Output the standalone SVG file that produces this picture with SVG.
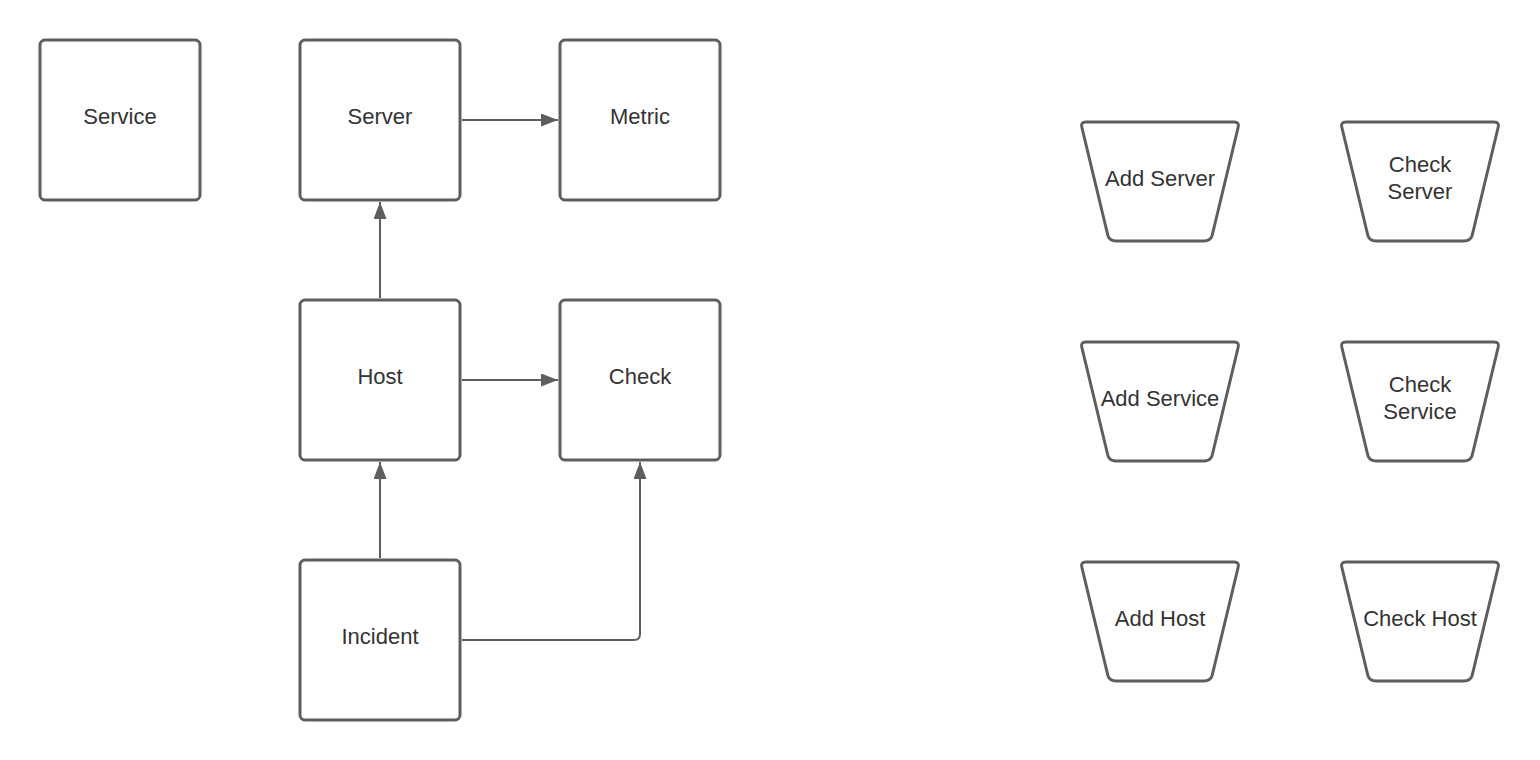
<svg xmlns="http://www.w3.org/2000/svg" width="1540" height="760" viewBox="0 0 1540 760">
<style>
.box{fill:#fff;stroke:#5e5e5e;stroke-width:3;}
.lbl{font-family:"Liberation Sans",Arial,sans-serif;font-size:22px;fill:#333;text-anchor:middle;}
.conn{fill:none;stroke:#5e5e5e;stroke-width:2;}
</style>
<defs>
<marker id="ah" markerWidth="17" markerHeight="13" refX="17" refY="6.5" orient="auto" markerUnits="userSpaceOnUse">
<path d="M0,0 L17,6.5 L0,13 Z" fill="#5e5e5e"/>
</marker>
</defs>
<rect width="1540" height="760" fill="#fff"/>
<g id="connectors">
<path class="conn" d="M462,120 L558,120" marker-end="url(#ah)"/>
<path class="conn" d="M380,298 L380,202" marker-end="url(#ah)"/>
<path class="conn" d="M462,380 L558,380" marker-end="url(#ah)"/>
<path class="conn" d="M380,558 L380,462" marker-end="url(#ah)"/>
<path class="conn" d="M462,640 L634,640 Q640,640 640,634 L640,462" marker-end="url(#ah)"/>
</g>
<g id="service"><rect class="box" x="40" y="40" width="160" height="160" rx="5"/><text class="lbl" x="120" y="124">Service</text></g>
<g id="server"><rect class="box" x="300" y="40" width="160" height="160" rx="5"/><text class="lbl" x="380" y="124">Server</text></g>
<g id="metric"><rect class="box" x="560" y="40" width="160" height="160" rx="5"/><text class="lbl" x="640" y="124">Metric</text></g>
<g id="host"><rect class="box" x="300" y="300" width="160" height="160" rx="5"/><text class="lbl" x="380" y="384">Host</text></g>
<g id="check"><rect class="box" x="560" y="300" width="160" height="160" rx="5"/><text class="lbl" x="640" y="384">Check</text></g>
<g id="incident"><rect class="box" x="300" y="560" width="160" height="160" rx="5"/><text class="lbl" x="380" y="644">Incident</text></g>
<g id="add-server"><path class="box" stroke-linejoin="round" d="M1086,122 L1234,122 Q1240,122 1238,128 L1212,236 Q1210,241 1204,241 L1116,241 Q1110,241 1108,236 L1082,128 Q1080,122 1086,122 Z"/><text class="lbl" x="1160" y="186">Add Server</text></g>
<g id="check-server"><path class="box" stroke-linejoin="round" d="M1346,122 L1494,122 Q1500,122 1498,128 L1472,236 Q1470,241 1464,241 L1376,241 Q1370,241 1368,236 L1342,128 Q1340,122 1346,122 Z"/><text class="lbl" x="1420" y="172">Check</text><text class="lbl" x="1420" y="199">Server</text></g>
<g id="add-service"><path class="box" stroke-linejoin="round" d="M1086,342 L1234,342 Q1240,342 1238,348 L1212,456 Q1210,461 1204,461 L1116,461 Q1110,461 1108,456 L1082,348 Q1080,342 1086,342 Z"/><text class="lbl" x="1160" y="406">Add Service</text></g>
<g id="check-service"><path class="box" stroke-linejoin="round" d="M1346,342 L1494,342 Q1500,342 1498,348 L1472,456 Q1470,461 1464,461 L1376,461 Q1370,461 1368,456 L1342,348 Q1340,342 1346,342 Z"/><text class="lbl" x="1420" y="392">Check</text><text class="lbl" x="1420" y="419">Service</text></g>
<g id="add-host"><path class="box" stroke-linejoin="round" d="M1086,562 L1234,562 Q1240,562 1238,568 L1212,676 Q1210,681 1204,681 L1116,681 Q1110,681 1108,676 L1082,568 Q1080,562 1086,562 Z"/><text class="lbl" x="1160" y="626">Add Host</text></g>
<g id="check-host"><path class="box" stroke-linejoin="round" d="M1346,562 L1494,562 Q1500,562 1498,568 L1472,676 Q1470,681 1464,681 L1376,681 Q1370,681 1368,676 L1342,568 Q1340,562 1346,562 Z"/><text class="lbl" x="1420" y="626">Check Host</text></g>
</svg>
